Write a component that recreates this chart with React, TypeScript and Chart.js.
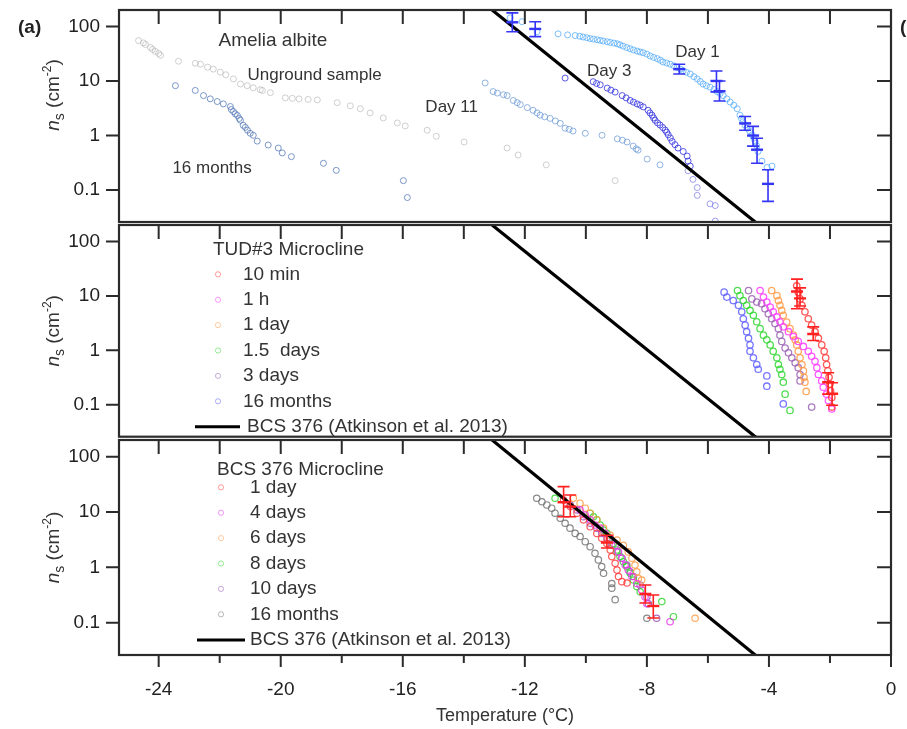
import React, { useEffect, useRef } from 'react';
import { Chart, registerables } from 'chart.js';

Chart.register(...registerables);

const FONT = '"Liberation Sans", Arial, Helvetica, sans-serif';
const INK = '#2b2b2b';
const TEXT = '#333333';

// ---------------- axes ----------------
const tempMin = -25.3;
const tempMax = 0;
const nsMin = 0.026;
const nsMax = 200;
const tempTicks = [-24, -22, -20, -18, -16, -14, -12, -10, -8, -6, -4, -2, 0];
const tempTickLabels = ['-24', '', '-20', '', '-16', '', '-12', '', '-8', '', '-4', '', '0'];
const nsTicks = [0.1, 1, 10, 100];
const nsTickLabels = ['0.1', '1', '10', '100'];

// BCS 376 parameterisation (Atkinson et al. 2013), end points of the line
const bcsT = [-14, -4];
const bcsNs = [524, 0.0163];

// ---------------- panel 1: Amelia albite ----------------
const ungroundT = [-24.66, -24.5, -24.43, -24.27, -24.2, -24.11, -24.0, -23.94, -23.35, -22.8, -22.63, -22.4, -22.21, -21.98, -21.8, -21.55, -21.32, -21.1, -20.9, -20.67, -20.6, -20.34, -19.85, -19.62, -19.4, -19.1, -18.8, -18.15, -17.72, -17.39, -17.07, -16.64, -16.18, -15.92, -15.2, -14.9, -13.99, -12.58, -12.22, -11.3, -9.04];
const ungroundNs = [55, 50, 46.7, 41.2, 38, 34.9, 32, 29.5, 23, 21.1, 20.3, 17.9, 16.5, 14.5, 13, 10.9, 8.8, 8.2, 7.5, 6.9, 6.7, 6.1, 4.9, 4.8, 4.7, 4.6, 4.5, 4.0, 3.5, 3.1, 2.6, 2.1, 1.7, 1.5, 1.25, 0.97, 0.76, 0.59, 0.44, 0.29, 0.149];

const albite16mT = [-23.45, -22.8, -22.53, -22.31, -22.08, -21.88, -21.65, -21.62, -21.55, -21.49, -21.42, -21.36, -21.32, -21.23, -21.16, -21.09, -21.0, -20.9, -20.77, -20.41, -20.08, -19.95, -19.65, -18.6, -18.18, -15.98, -15.85];
const albite16mNs = [8.2, 6.7, 5.4, 4.7, 4.2, 3.8, 3.4, 3.0, 2.75, 2.5, 2.33, 2.05, 1.9, 1.54, 1.41, 1.25, 1.1, 1.01, 0.79, 0.67, 0.59, 0.48, 0.41, 0.31, 0.23, 0.149, 0.073];

const day11T = [-13.3, -13.04, -12.9, -12.7, -12.58, -12.38, -12.25, -12.15, -11.92, -11.73, -11.6, -11.5, -11.35, -11.17, -11.0, -10.84, -10.68, -10.55, -10.42, -10.02, -9.47, -8.97, -8.8, -8.65, -8.45, -8.35, -8.29, -7.99, -7.57];
const day11Ns = [9.2, 6.4, 6.0, 5.6, 5.4, 4.4, 4.0, 3.7, 3.25, 2.9, 2.6, 2.36, 2.2, 2.06, 1.85, 1.67, 1.36, 1.3, 1.21, 1.1, 1.01, 0.87, 0.82, 0.76, 0.64, 0.57, 0.54, 0.37, 0.29];

const day3T = [-10.68, -9.76, -9.65, -9.53, -9.3, -9.18, -9.04, -8.81, -8.68, -8.55, -8.44, -8.32, -8.22, -8.12, -7.96, -7.9, -7.83, -7.78, -7.73, -7.65, -7.57, -7.48, -7.4, -7.35, -7.3, -7.23, -7.17, -7.08, -6.98, -6.81, -6.68, -6.65, -6.58];
const day3Ns = [11.3, 9.7, 9.0, 8.5, 7.4, 6.8, 6.25, 5.4, 4.9, 4.4, 4.1, 3.8, 3.6, 3.35, 2.9, 2.6, 2.36, 2.1, 1.9, 1.7, 1.56, 1.4, 1.26, 1.15, 1.03, 0.9, 0.78, 0.68, 0.59, 0.51, 0.42, 0.34, 0.275];
const day3TailT = [-6.65, -6.49, -6.35, -6.35, -5.93, -5.76, -5.76];
const day3TailNs = [0.226, 0.157, 0.111, 0.08, 0.056, 0.052, 0.027];

const day1T = [-12.48, -12.09, -11.6, -10.91, -10.6, -10.35, -10.2, -10.09, -9.97, -9.86, -9.75, -9.63, -9.53, -9.43, -9.3, -9.2, -9.08, -8.97, -8.88, -8.78, -8.66, -8.55, -8.44, -8.32, -8.22, -8.12, -8.0, -7.89, -7.78, -7.66, -7.56, -7.47, -7.35, -7.24, -7.12, -7.01, -6.9, -6.81, -6.7, -6.58, -6.46, -6.35, -6.25, -6.16, -6.05, -5.93, -5.8, -5.7, -5.6, -5.5, -5.38, -5.27, -5.15, -5.04, -4.95, -4.9, -4.85, -4.78, -4.72, -4.63, -4.55, -4.5, -4.45, -4.4, -4.36, -4.23, -4.06, -3.9];
const day1Ns = [144, 122, 80, 73, 70, 68, 66, 64, 62, 60, 58.5, 57, 55.5, 54, 52.5, 51, 49.5, 48, 46, 43.5, 41, 39, 37, 35.3, 34, 33, 31, 28.7, 27, 25.7, 24, 22.3, 21.3, 20.3, 19, 17.7, 16.5, 15.4, 14.4, 13.4, 12, 10.9, 9.8, 8.8, 8.2, 7.7, 7.0, 6.4, 5.9, 5.4, 4.7, 4.1, 3.6, 3.1, 2.36, 2.05, 1.79, 1.55, 1.36, 1.2, 1.03, 0.9, 0.78, 0.65, 0.51, 0.34, 0.26, 0.275];

const day1ErrT = [-12.41, -11.66, -6.94, -5.72, -5.62, -4.78, -4.52, -4.39, -4.03];
const day1ErrMid = [119, 90, 16.5, 10, 6.5, 1.67, 1.0, 0.55, 0.13];
const day1ErrLo = [80, 65, 13.4, 6.3, 4.3, 1.25, 0.64, 0.31, 0.062];
const day1ErrHi = [177, 122, 20.3, 15.2, 10, 2.23, 1.47, 0.89, 0.236];

// ---------------- panel 2: TUD#3 microcline ----------------
const tud10minT = [-3.09, -3.04, -2.98, -2.92, -2.82, -2.71, -2.6, -2.49, -2.38, -2.27, -2.19, -2.14, -2.11, -2.07, -2.03, -2.0, -1.98, -1.94, -1.94];
const tud10minNs = [15.3, 11.7, 8.8, 6.7, 5.1, 3.8, 2.9, 2.2, 1.67, 1.26, 0.96, 0.73, 0.55, 0.42, 0.32, 0.24, 0.18, 0.137, 0.091];
const tud1hT = [-4.29, -4.18, -4.07, -3.96, -3.86, -3.74, -3.64, -3.53, -3.36, -3.2, -3.04, -2.87, -2.71, -2.6, -2.49, -2.43, -2.38, -2.27, -2.22, -2.11, -2.05, -1.94];
const tud1hNs = [12.5, 9.5, 7.7, 6.25, 5.1, 4.1, 3.35, 2.7, 2.2, 1.79, 1.46, 1.18, 0.96, 0.78, 0.63, 0.48, 0.36, 0.275, 0.21, 0.157, 0.12, 0.084];
const tud1dT = [-3.91, -3.74, -3.69, -3.64, -3.58, -3.53, -3.42, -3.31, -3.2, -3.14, -3.09, -3.04, -2.98, -2.92, -2.87, -2.85, -2.82, -2.78];
const tud1dNs = [12.5, 10.1, 8.2, 6.7, 5.4, 4.4, 3.3, 2.5, 1.9, 1.56, 1.26, 0.96, 0.73, 0.55, 0.42, 0.32, 0.26, 0.176];
const tud15dT = [-5.03, -4.95, -4.84, -4.73, -4.62, -4.51, -4.4, -4.29, -4.18, -4.07, -3.96, -3.86, -3.74, -3.69, -3.64, -3.58, -3.53, -3.47, -3.31];
const tud15dNs = [12.5, 10.1, 8.2, 6.7, 5.4, 4.4, 3.35, 2.5, 1.9, 1.56, 1.26, 0.96, 0.73, 0.55, 0.45, 0.36, 0.26, 0.157, 0.079];
const tud3dT = [-4.67, -4.56, -4.4, -4.24, -4.13, -4.02, -3.91, -3.8, -3.69, -3.64, -3.58, -3.47, -3.36, -3.25, -3.14, -3.04, -2.98, -2.98, -2.6];
const tud3dNs = [12.5, 8.8, 7.7, 7.2, 5.8, 4.7, 3.8, 3.1, 2.5, 1.9, 1.46, 1.1, 0.9, 0.73, 0.59, 0.48, 0.36, 0.275, 0.091];
const tud16mT = [-5.47, -5.38, -5.17, -5.0, -4.89, -4.84, -4.78, -4.73, -4.67, -4.62, -4.62, -4.51, -4.4, -4.35, -4.07, -4.07, -3.53];
const tud16mNs = [11.7, 9.5, 8.2, 6.7, 5.1, 3.8, 2.9, 2.2, 1.67, 1.26, 0.96, 0.73, 0.55, 0.45, 0.34, 0.22, 0.104];

const tudErrT = [-3.08, -2.98, -2.55, -2.06, -1.93];
const tudErrMid = [12, 9, 2.0, 0.26, 0.16];
const tudErrLo = [5.8, 6.5, 1.52, 0.157, 0.098];
const tudErrHi = [20.3, 14, 2.7, 0.389, 0.254];

// ---------------- panel 3: BCS 376 microcline ----------------
const bcs1dT = [-10.73, -10.51, -10.29, -10.08, -9.86, -9.64, -9.48, -9.31, -9.2, -9.15, -9.04, -8.98, -8.93, -8.82, -8.65];
const bcs1dNs = [16.5, 12.5, 9.5, 7.2, 5.4, 4.1, 3.35, 2.7, 2.06, 1.56, 1.18, 0.89, 0.68, 0.55, 0.52];
const bcs4dT = [-10.19, -10.02, -9.86, -9.7, -9.53, -9.37, -9.2, -9.04, -8.93, -8.82, -8.71, -8.61, -8.49, -8.33, -8.17, -8.06, -8.0, -7.24];
const bcs4dNs = [10.9, 8.8, 7.2, 5.8, 5.1, 4.1, 3.35, 2.5, 1.9, 1.46, 1.1, 0.89, 0.68, 0.51, 0.39, 0.29, 0.22, 0.104];
const bcs6dT = [-10.41, -10.19, -10.02, -9.86, -9.64, -9.42, -9.2, -8.98, -8.77, -8.61, -8.49, -8.39, -8.33, -8.28, -8.17, -6.42];
const bcs6dNs = [17.7, 14.4, 11.7, 9.5, 7.2, 5.1, 3.8, 3.1, 2.5, 1.9, 1.46, 1.1, 0.83, 0.63, 0.59, 0.12];
const bcs8dT = [-11.01, -9.86, -9.75, -9.64, -9.53, -9.42, -9.31, -9.2, -9.1, -8.98, -8.88, -8.77, -8.66, -8.55, -8.44, -8.33, -8.22, -7.51, -7.13];
const bcs8dNs = [17.7, 9.5, 8.2, 7.2, 5.8, 4.7, 4.1, 3.35, 2.7, 2.06, 1.56, 1.26, 1.03, 0.78, 0.59, 0.45, 0.36, 0.24, 0.128];
const bcs10dT = [-10.51, -10.29, -10.08, -9.86, -9.64, -9.48, -9.31, -9.15, -8.98, -8.82, -8.66, -8.55, -8.44, -8.22, -8.0, -7.95, -7.68];
const bcs10dNs = [13.4, 10.9, 8.2, 6.25, 5.1, 4.1, 3.35, 2.5, 1.9, 1.46, 1.1, 0.83, 0.68, 0.48, 0.29, 0.22, 0.12];
const bcs16mT = [-11.61, -11.44, -11.28, -11.12, -11.01, -10.84, -10.68, -10.52, -10.35, -10.19, -10.02, -9.86, -9.7, -9.59, -9.48, -9.42, -9.15, -9.15, -9.04, -8.0];
const bcs16mNs = [17.7, 15.3, 13.4, 11.7, 9.5, 7.7, 6.25, 5.1, 4.1, 3.6, 2.9, 2.36, 1.79, 1.36, 1.03, 0.78, 0.51, 0.42, 0.26, 0.12];

const bcsErrT = [-10.73, -10.51, -9.31, -8.05, -7.79];
const bcsErrMid = [15, 12.5, 2.8, 0.33, 0.2];
const bcsErrLo = [8.2, 8.2, 2.23, 0.226, 0.121];
const bcsErrHi = [28.7, 20.3, 3.8, 0.48, 0.315];

const bcsLegend = 'BCS 376 (Atkinson et al. 2013)';

// ---------------- panel definitions ----------------
const panel1 = {
  top: 0,
  height: 227,
  showX: false,
  titleShift: -21,
  markerRadius: 3,
  markerWidth: 1,
  series: [
    { label: 'Unground sample', t: ungroundT, ns: ungroundNs, color: 'rgba(170,170,170,0.55)' },
    { label: '16 months', t: albite16mT, ns: albite16mNs, color: 'rgba(90,125,185,0.8)' },
    { label: 'Day 11', t: day11T, ns: day11Ns, color: 'rgba(110,155,215,0.75)' },
    { label: 'Day 3', t: day3T, ns: day3Ns, color: 'rgba(60,60,225,0.85)' },
    { label: 'Day 3 (tail)', t: day3TailT, ns: day3TailNs, color: 'rgba(120,120,230,0.7)' },
    { label: 'Day 1', t: day1T, ns: day1Ns, color: 'rgba(80,170,250,0.75)' },
  ],
  errs: [{ t: day1ErrT, mid: day1ErrMid, lo: day1ErrLo, hi: day1ErrHi, color: '#3434f4' }],
  notes: [
    { text: 'Amelia albite', t: -22.04, ns: 55, size: 19 },
    { text: 'Unground sample', t: -21.09, ns: 12.8, size: 17 },
    { text: 'Day 11', t: -15.26, ns: 3.25, size: 17 },
    { text: '16 months', t: -23.55, ns: 0.246, size: 17 },
    { text: 'Day 3', t: -9.96, ns: 15.2, size: 17 },
    { text: 'Day 1', t: -7.07, ns: 33.4, size: 17 },
  ],
  marks: [
    { text: '(a)', x: 18, y: 28, size: 19 },
    { text: '(b)', x: 900, y: 28, size: 19 },
  ],
  legend: null,
};

const panel2 = {
  top: 215,
  height: 227,
  showX: false,
  titleShift: 0,
  markerRadius: 3.2,
  markerWidth: 1.3,
  series: [
    { label: '10 min', t: tud10minT, ns: tud10minNs, color: 'rgba(255,60,60,0.85)' },
    { label: '1 h', t: tud1hT, ns: tud1hNs, color: 'rgba(255,60,255,0.85)' },
    { label: '1 day', t: tud1dT, ns: tud1dNs, color: 'rgba(255,155,70,0.85)' },
    { label: '1.5  days', t: tud15dT, ns: tud15dNs, color: 'rgba(50,215,50,0.85)' },
    { label: '3 days', t: tud3dT, ns: tud3dNs, color: 'rgba(155,100,180,0.85)' },
    { label: '16 months', t: tud16mT, ns: tud16mNs, color: 'rgba(95,95,255,0.85)' },
  ],
  errs: [{ t: tudErrT, mid: tudErrMid, lo: tudErrLo, hi: tudErrHi, color: '#ff2020' }],
  notes: [],
  marks: [],
  legend: {
    title: 'TUD#3 Microcline', titleX: 213, titleDy: 25,
    markerX: 218, textX: 243, firstDy: 49.3, step: 25.4,
    lineX0: 195, lineX1: 240, lineTextX: 247, lineDy: 201.7,
  },
};

const panel3 = {
  top: 430,
  height: 299,
  showX: true,
  titleShift: 0,
  markerRadius: 3.2,
  markerWidth: 1.2,
  series: [
    { label: '1 day', t: bcs1dT, ns: bcs1dNs, color: 'rgba(255,60,60,0.85)' },
    { label: '4 days', t: bcs4dT, ns: bcs4dNs, color: 'rgba(235,50,235,0.85)' },
    { label: '6 days', t: bcs6dT, ns: bcs6dNs, color: 'rgba(255,155,70,0.85)' },
    { label: '8 days', t: bcs8dT, ns: bcs8dNs, color: 'rgba(50,215,50,0.85)' },
    { label: '10 days', t: bcs10dT, ns: bcs10dNs, color: 'rgba(155,85,180,0.85)' },
    { label: '16 months', t: bcs16mT, ns: bcs16mNs, color: 'rgba(115,115,115,0.85)' },
  ],
  errs: [{ t: bcsErrT, mid: bcsErrMid, lo: bcsErrLo, hi: bcsErrHi, color: '#ff2020' }],
  notes: [],
  marks: [],
  legend: {
    title: 'BCS 376 Microcline', titleX: 217, titleDy: 30,
    markerX: 221, textX: 250, firstDy: 47.3, step: 25.4,
    lineX0: 197, lineX1: 245, lineTextX: 250, lineDy: 200,
  },
};

function drawYTitle(ctx: CanvasRenderingContext2D, cx: number, cy: number) {
  const parts = [
    { t: 'n', font: `italic 19px ${FONT}`, dy: 0 },
    { t: 's', font: `14px ${FONT}`, dy: 5 },
    { t: ' (cm', font: `19px ${FONT}`, dy: 0 },
    { t: '-2', font: `12px ${FONT}`, dy: -8 },
    { t: ')', font: `19px ${FONT}`, dy: 0 },
  ];
  ctx.save();
  ctx.translate(cx, cy);
  ctx.rotate(-Math.PI / 2);
  ctx.fillStyle = TEXT;
  ctx.textBaseline = 'alphabetic';
  ctx.textAlign = 'left';
  let total = 0;
  const widths = parts.map((p) => {
    ctx.font = p.font;
    const w = ctx.measureText(p.t).width;
    total += w;
    return w;
  });
  let x = -total / 2;
  parts.forEach((p, i) => {
    ctx.font = p.font;
    ctx.fillText(p.t, x, p.dy);
    x += widths[i];
  });
  ctx.restore();
}

function Panel({ cfg }: { cfg: any }) {
  const ref = useRef<HTMLCanvasElement>(null);

  useEffect(() => {
    const canvas = ref.current;
    if (!canvas) return;

    const deco = {
      id: 'deco',
      afterDatasetsDraw(chart: any) {
        const { ctx, chartArea: a, scales } = chart;
        const xs = scales.x;
        const ys = scales.y;
        ctx.save();
        ctx.beginPath();
        ctx.rect(a.left, a.top, a.right - a.left, a.bottom - a.top);
        ctx.clip();
        cfg.errs.forEach((e: any) => {
          ctx.strokeStyle = e.color;
          e.t.forEach((t: number, i: number) => {
            const px = xs.getPixelForValue(t);
            const lo = ys.getPixelForValue(e.lo[i]);
            const hi = ys.getPixelForValue(e.hi[i]);
            const md = ys.getPixelForValue(e.mid[i]);
            ctx.lineWidth = 1.6;
            ctx.beginPath();
            ctx.moveTo(px, lo); ctx.lineTo(px, hi);
            ctx.moveTo(px - 6, lo); ctx.lineTo(px + 6, lo);
            ctx.moveTo(px - 6, hi); ctx.lineTo(px + 6, hi);
            ctx.stroke();
            ctx.lineWidth = 2.4;
            ctx.beginPath();
            ctx.moveTo(px - 6, md); ctx.lineTo(px + 6, md);
            ctx.stroke();
          });
        });
        ctx.restore();
      },
      afterDraw(chart: any) {
        const { ctx, chartArea: a, scales } = chart;
        const xs = scales.x;
        const ys = scales.y;
        ctx.save();
        // frame
        ctx.strokeStyle = INK;
        ctx.lineWidth = 2.2;
        ctx.strokeRect(a.left, a.top, a.right - a.left, a.bottom - a.top);
        // ticks
        ctx.lineWidth = 2;
        ctx.beginPath();
        tempTicks.forEach((v, i) => {
          const px = xs.getPixelForValue(v);
          if (v < 0) {
            ctx.moveTo(px, a.top);
            ctx.lineTo(px, a.top + 14);
          }
          if (cfg.showX) {
            const len = tempTickLabels[i] ? 12 : 8;
            ctx.moveTo(px, a.bottom);
            ctx.lineTo(px, a.bottom + len);
          }
        });
        nsTicks.forEach((v) => {
          const py = ys.getPixelForValue(v);
          ctx.moveTo(a.left - 13, py);
          ctx.lineTo(a.left, py);
          ctx.moveTo(a.right - 14, py);
          ctx.lineTo(a.right, py);
        });
        ctx.stroke();

        // y title
        drawYTitle(ctx, 59, (a.top + a.bottom) / 2 + cfg.titleShift);

        // in-plot notes (positioned in data space)
        ctx.fillStyle = TEXT;
        ctx.textAlign = 'left';
        ctx.textBaseline = 'middle';
        cfg.notes.forEach((n: any) => {
          ctx.font = `${n.size}px ${FONT}`;
          ctx.fillText(n.text, xs.getPixelForValue(n.t), ys.getPixelForValue(n.ns));
        });
        cfg.marks.forEach((m: any) => {
          ctx.font = `bold ${m.size}px ${FONT}`;
          ctx.fillStyle = '#222';
          ctx.fillText(m.text, m.x, m.y);
        });

        // legend
        const lg = cfg.legend;
        if (lg) {
          ctx.font = `19px ${FONT}`;
          ctx.fillStyle = TEXT;
          ctx.fillText(lg.title, lg.titleX, a.top + lg.titleDy);
          cfg.series.forEach((s: any, i: number) => {
            const y = a.top + lg.firstDy + i * lg.step;
            ctx.beginPath();
            ctx.strokeStyle = s.color;
            ctx.lineWidth = 1;
            ctx.globalAlpha = 0.6;
            ctx.arc(lg.markerX, y, 2.6, 0, Math.PI * 2);
            ctx.stroke();
            ctx.globalAlpha = 1;
            ctx.fillStyle = TEXT;
            ctx.fillText(s.label, lg.textX, y);
          });
          const ly = a.top + lg.lineDy;
          ctx.beginPath();
          ctx.strokeStyle = '#000';
          ctx.lineWidth = 3;
          ctx.moveTo(lg.lineX0, ly);
          ctx.lineTo(lg.lineX1, ly);
          ctx.stroke();
          ctx.fillStyle = TEXT;
          ctx.fillText(bcsLegend, lg.lineTextX, ly);
        }
        ctx.restore();
      },
    };

    const datasets: any[] = [
      {
        label: bcsLegend,
        data: bcsT.map((t, i) => ({ x: t, y: bcsNs[i] })),
        showLine: true,
        borderColor: '#000',
        borderWidth: 3.2,
        pointRadius: 0,
        clip: 0,
      },
      ...cfg.series.map((s: any) => ({
        label: s.label,
        data: s.t.map((t: number, i: number) => ({ x: t, y: s.ns[i] })),
        showLine: false,
        pointRadius: cfg.markerRadius,
        pointBorderWidth: cfg.markerWidth,
        pointBackgroundColor: 'rgba(0,0,0,0)',
        pointBorderColor: s.color,
        borderColor: s.color,
      })),
    ];

    const chart = new Chart(canvas, {
      type: 'scatter',
      data: { datasets },
      options: {
        responsive: false,
        animation: false,
        events: [],
        layout: { padding: { top: 10, right: 16, bottom: cfg.showX ? 0 : 2, left: 0 } },
        plugins: { legend: { display: false }, tooltip: { enabled: false } },
        scales: {
          x: {
            type: 'linear',
            min: tempMin,
            max: tempMax,
            display: cfg.showX,
            grid: { display: false, drawTicks: false },
            border: { display: false },
            afterBuildTicks: (s: any) => { s.ticks = tempTicks.map((v) => ({ value: v })); },
            ticks: {
              autoSkip: false,
              maxRotation: 0,
              padding: 23,
              color: '#222',
              font: { family: FONT, size: 19 },
              callback: (_v: any, i: number) => tempTickLabels[i],
            },
            title: {
              display: true,
              text: 'Temperature (°C)',
              color: TEXT,
              font: { family: FONT, size: 18 },
              padding: { top: 0, bottom: 2 },
            },
            afterFit: (s: any) => {
              s.height = cfg.showX ? 74 : 0;
              s.paddingLeft = 0;
              s.paddingRight = 0;
            },
          },
          y: {
            type: 'logarithmic',
            min: nsMin,
            max: nsMax,
            grid: { display: false, drawTicks: false },
            border: { display: false },
            afterBuildTicks: (s: any) => { s.ticks = nsTicks.map((v) => ({ value: v })); },
            ticks: {
              autoSkip: false,
              padding: 19,
              color: '#222',
              font: { family: FONT, size: 19 },
              callback: (_v: any, i: number) => nsTickLabels[i],
            },
            afterFit: (s: any) => { s.width = 119; s.paddingTop = 0; s.paddingBottom = 0; },
          },
        },
      } as any,
      plugins: [deco],
    });
    return () => chart.destroy();
  }, [cfg]);

  return (
    <canvas
      ref={ref}
      width={907}
      height={cfg.height}
      style={{ position: 'absolute', left: 0, top: cfg.top, width: 907, height: cfg.height }}
    />
  );
}

export default function App() {
  return (
    <div style={{ position: 'absolute', left: 0, top: 0, width: 907, height: 729, background: '#fff', overflow: 'hidden' }}>
      <Panel cfg={panel1} />
      <Panel cfg={panel2} />
      <Panel cfg={panel3} />
    </div>
  );
}
